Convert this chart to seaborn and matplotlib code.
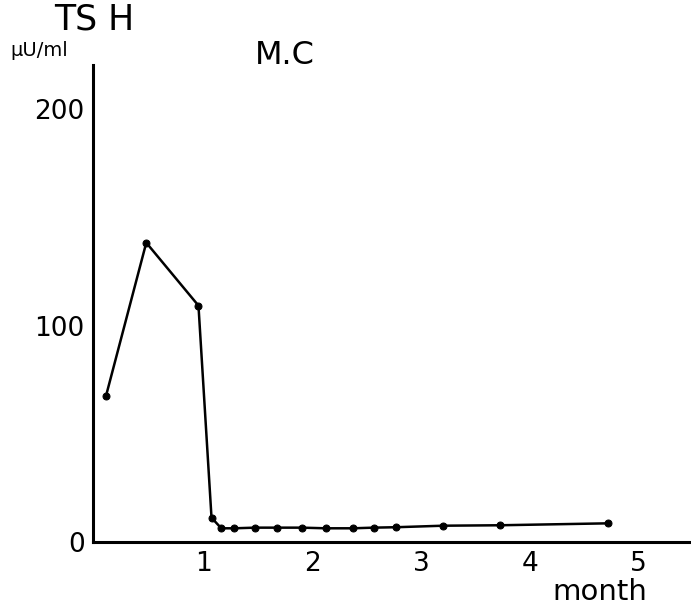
import matplotlib
matplotlib.use("Agg")
import matplotlib.pyplot as plt
import seaborn as sns
import pandas as pd

# Data
months = [0.10, 0.47, 0.95, 1.07, 1.16, 1.28, 1.47, 1.67, 1.90, 2.12, 2.37, 2.56, 2.77, 3.20, 3.72, 4.72]
tsh = [67.5, 138.3, 109.2, 11.1, 6.2, 6.2, 6.5, 6.5, 6.5, 6.2, 6.2, 6.5, 6.7, 7.4, 7.6, 8.5]
x_ticks = [1, 2, 3, 4, 5]
y_ticks = [0, 100, 200]

df = pd.DataFrame({"month": months, "TSH": tsh})

sns.set_theme(style="white")
plt.rcParams['font.family'] = ['DejaVu Sans']

W, H = 691, 613
fig = plt.figure(figsize=(W / 100, H / 100), dpi=100)
ax = fig.add_axes([93 / W, 1 - 541.7 / H, (W - 93) / W, (541.7 - 65) / H])

sns.lineplot(data=df, x="month", y="TSH", sort=False, color="black",
             marker="o", markersize=5, markeredgecolor="black",
             linewidth=1.8, ax=ax)

ax.set_xlim(-0.02, 5.48)
ax.set_ylim(0, 220.5)
ax.set_xticks(x_ticks)
ax.set_yticks(y_ticks)
ax.set_xticklabels([str(t) for t in x_ticks])
ax.set_yticklabels([str(t) for t in y_ticks])
ax.set_xlabel("")
ax.set_ylabel("")

for side in ["top", "right"]:
    ax.spines[side].set_visible(False)
for side in ["left", "bottom"]:
    ax.spines[side].set_visible(True)
    ax.spines[side].set_color("black")
    ax.spines[side].set_linewidth(2.2)

ax.tick_params(axis="both", which="major", direction="out", length=3,
               width=1.2, color="black", labelsize=19, labelcolor="black")
ax.tick_params(axis="x", pad=4)
ax.tick_params(axis="y", pad=3)

def px(x, y):
    return x / W, 1 - y / H

fig.text(*px(94, 20), "TS H", fontsize=25, ha="center", va="center", color="black")
fig.text(*px(39, 50), "μU/ml", fontsize=14, ha="center", va="center", color="black")
fig.text(*px(285, 56), "M.C", fontsize=23, ha="center", va="center", color="black")
fig.text(*px(600, 592), "month", fontsize=21, ha="center", va="center", color="black")

fig.savefig("out.png", dpi=100, facecolor="white")
